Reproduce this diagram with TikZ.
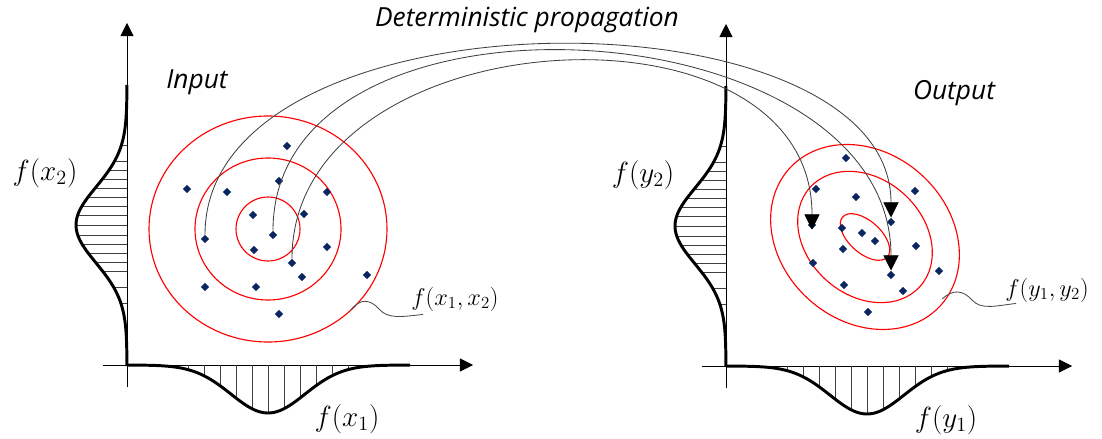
\documentclass[tikz,border=0pt]{standalone}
\usepackage{amsmath}
\usepackage{fontspec}
\setsansfont{Open Sans}
\usepackage{tikz}
\usetikzlibrary{arrows.meta,calc,positioning,shapes.geometric}
\definecolor{navy}{HTML}{0B2561}

\begin{document}
\begin{tikzpicture}[
    x=0.025cm, y=-0.025cm,
    dot/.style={diamond, fill=navy, inner sep=0pt, minimum size=2.1mm},
    ax/.style={-{Triangle[length=3.3mm, width=3.3mm]}, line width=0.5pt},
    dens/.style={line width=2.1pt, line join=round},
    hatch/.style={line width=0.4pt, black!75},
    ring/.style={red, line width=0.8pt},
    prop/.style={-{Triangle[length=3.8mm, width=3.8mm, color=black]}, black!75, line width=0.6pt},
    lead/.style={black!70, line width=0.6pt},
    ttl/.style={font=\sffamily\itshape\fontsize{18.7}{22}\selectfont},
    fn/.style={inner sep=0pt, font=\fontsize{20}{24}\selectfont},
    fnj/.style={inner sep=0pt, font=\fontsize{18}{21}\selectfont}]
  \useasboundingbox (0,0) rectangle (1102,439);

  \coordinate (ol) at (127,365);
  \coordinate (or) at (726,366);
  \foreach \o in {ol,or} {
    \begin{scope}[shift={(\o)}]
      \draw[ax] (0,22) -- (0,-342);
      \draw[ax] (-24,0) -- (346,0);
      \foreach \h in {-80,-64,-55,-46,-37,-28,-19,-10,0,10,19,28,37,46,62,78}
        \draw[hatch] ({-51*exp(-(\h/38)*(\h/38)/2)},\h-140) -- (0,\h-140);
      \foreach \v in {-80,-64,...,80}
        \draw[hatch] (141+\v,0) -- (141+\v,{48*exp(-(\v/37)*(\v/37)/2)});
      \draw[dens] plot[variable=\t, domain=-280:0, samples=90]
        ({-51*exp(-((\t+140)/38)*((\t+140)/38)/2)}, \t);
      \draw[dens] plot[variable=\t, domain=0:283, samples=90]
        (\t, {48*exp(-((\t-141)/37)*((\t-141)/37)/2)});
    \end{scope}
  }

  \coordinate (cl) at (268,229);
  \coordinate (cr) at (865,237);
  \draw[ring] (cl) ellipse [x radius=119, y radius=113];
  \draw[ring] (cl) ellipse [x radius=73, y radius=71];
  \draw[ring] (cl) ellipse [x radius=32, y radius=32];
  \draw[ring, rotate around={-42:(cr)}] (cr) ellipse [x radius=102, y radius=84];
  \draw[ring, rotate around={-42:(cr)}] (cr) ellipse [x radius=74, y radius=58];
  \draw[ring, rotate around={-42:(cr)}] (cr) ellipse [x radius=30, y radius=16];

  \node[dot] (xa) at (205,239) {};
  \node[dot] (xb) at (273,235) {};
  \node[dot] (xc) at (292,263) {};
  \foreach \px/\py [count=\i] in {287/146,187/189,227/192,279/181,327/192,253/215,304/214,
      254/250,327/247,302/277,367/275,205/287,256/287,279/314}
    \node[dot] (l\i) at (\px,\py) {};
  \node[dot] (ya) at (891,222) {};
  \node[dot] (yb) at (891,275) {};
  \node[dot] (yc) at (812,225) {};
  \foreach \px/\py [count=\i] in {846/158,816/189,856/197,915/191,842/228,862/233,875/241,
      843/249,916/246,813/263,939/271,844/285,903/291,868/312}
    \node[dot] (r\i) at (\px,\py) {};

  \draw[prop] (xa) .. controls +(0,-254) and +(0,-237) .. (ya);
  \draw[prop] (xb) .. controls +(0,-267) and +(0,-271) .. (yb);
  \draw[prop] (xc) .. controls +(0,-245) and +(0,-243) .. (yc.south);

  \node[ttl] (prop) at (527,20) {Deterministic propagation};
  \node[ttl] (inp) at (197,82) {Input};
  \node[ttl] (outp) at (954,93) {Output};

  \node[fn] (fx2) at (45,173) {$f(x_2)$};
  \node[fn] (fx1) at (347,419) {$f(x_1)$};
  \node[fn] (fy2) at (643,175) {$f(y_2)$};
  \node[fn] (fy1) at (946,420) {$f(y_1)$};
  \node[fnj] (fxx) at (455,299) {$f(x_1,x_2)$};
  \node[fnj] (fyy) at (1047,290) {$f(y_1,y_2)$};

  \coordinate (lk) at ($(cl)+(46:119 and 113)$);
  \coordinate (rk) at (942,299);
  \draw[lead] (lk) .. controls (360,298) and (370,299) .. (379,309)
    .. controls (388,319) and (400,317) .. ($(fxx.south west)+(12,3)$);
  \draw[lead] (rk) .. controls (953,289) and (963,290) .. (972,300)
    .. controls (981,310) and (995,306) .. ($(fyy.south west)+(11,1)$);
\end{tikzpicture}
\end{document}
